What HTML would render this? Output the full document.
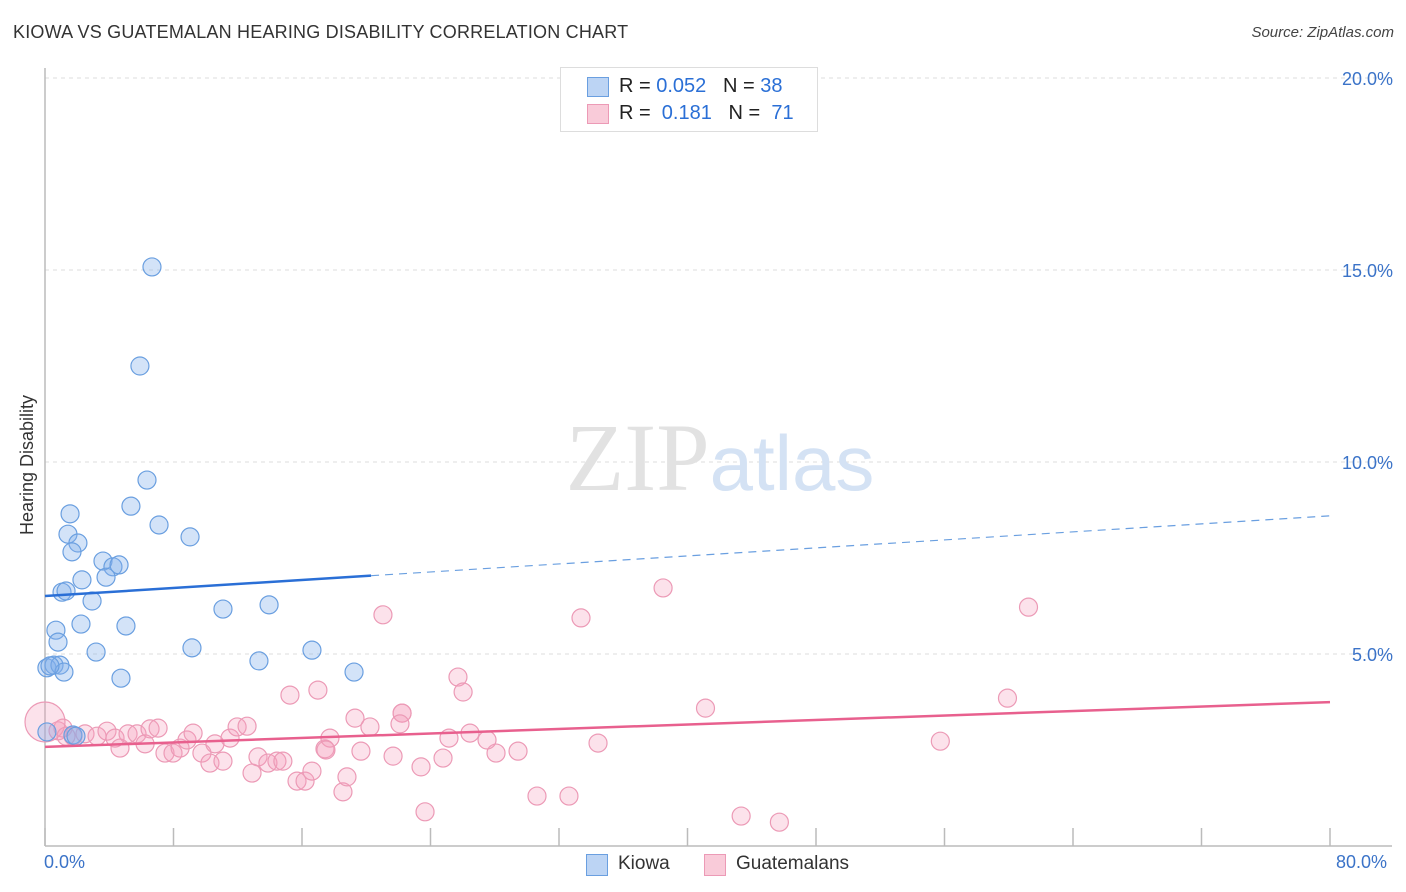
<!DOCTYPE html>
<html><head><meta charset="utf-8">
<style>
body{margin:0;background:#fff;font-family:"Liberation Sans",sans-serif;}
#wrap{position:relative;width:1406px;height:892px;overflow:hidden;}
.t{position:absolute;white-space:nowrap;}
</style></head>
<body>
<div id="wrap">
<div class="t" style="left:13px;top:22px;font-size:18px;color:#333;letter-spacing:0.2px">KIOWA VS GUATEMALAN HEARING DISABILITY CORRELATION CHART</div>
<div class="t" style="right:12px;top:24px;font-size:15px;color:#444;font-style:italic">Source: ZipAtlas.com</div>
<svg id="svg" width="1406" height="892" style="position:absolute;left:0;top:0"></svg>
</div>
<script>
const kiowaX=[6.66,5.91,6.35,5.35,1.56,7.10,9.03,1.43,2.05,1.68,3.61,4.23,4.61,3.80,2.30,1.06,1.31,2.93,11.08,13.95,0.68,2.24,5.04,0.81,3.18,9.15,13.32,16.62,0.12,0.56,0.93,1.18,19.24,4.73,0.12,1.74,1.93,0.31];
const kiowaY=[15.08,12.50,9.53,8.85,8.65,8.36,8.05,8.12,7.89,7.66,7.42,7.27,7.32,7.00,6.93,6.61,6.64,6.38,6.17,6.28,5.62,5.78,5.73,5.31,5.05,5.16,4.82,5.10,4.64,4.71,4.71,4.53,4.53,4.37,2.97,2.89,2.86,4.69];
const guatX=[0.81,1.12,1.74,2.49,3.24,3.86,4.36,4.67,5.17,5.73,6.23,6.54,7.04,7.47,7.97,8.41,8.84,9.22,9.77,10.27,10.58,11.08,11.52,11.96,12.89,12.58,13.26,13.88,14.44,14.81,15.25,16.99,15.69,16.19,16.62,17.43,17.74,18.55,18.80,19.30,19.67,20.23,21.04,33.37,25.71,26.03,22.23,22.23,22.10,17.49,21.67,23.41,24.78,25.15,26.46,28.08,27.52,29.45,34.43,30.63,32.62,23.66,38.48,41.12,43.34,45.72,55.74,59.92,61.23,0.0,1.31];
const guatY=[3.00,3.07,2.86,2.92,2.86,2.99,2.81,2.55,2.92,2.92,2.66,3.05,3.07,2.42,2.42,2.55,2.76,2.94,2.42,2.16,2.66,2.21,2.81,3.10,1.90,3.12,2.32,2.16,2.21,2.21,3.93,4.06,1.69,1.69,1.95,2.53,2.81,1.41,1.80,3.33,2.47,3.10,6.02,5.94,4.40,4.01,3.46,3.46,3.18,2.50,2.34,2.06,2.29,2.81,2.94,2.42,2.76,2.47,2.68,1.30,1.30,0.89,6.72,3.59,0.78,0.62,2.73,3.85,6.22,3.23,2.86];
const guatR=[9,9,9,9,9,9,9,9,9,9,9,9,9,9,9,9,9,9,9,9,9,9,9,9,9,9,9,9,9,9,9,9,9,9,9,9,9,9,9,9,9,9,9,9,9,9,9,9,9,9,9,9,9,9,9,9,9,9,9,9,9,9,9,9,9,9,9,9,9,20,9];
const kiowaTrend=[6.51,0.0261]; // intercept, slope
const guatTrend=[2.58,0.0146];
const yTicks=[5,10,15,20];
const yTickLabels=["5.0%","10.0%","15.0%","20.0%"];
const xTicks=[0,8,16,24,32,40,48,56,64,72,80];

const svg=document.getElementById('svg');
const NS='http://www.w3.org/2000/svg';
const X0=45,X1=1330,Y0=846,YPX=192/5;
const sx=v=>X0+(v/80)*(X1-X0);
const sy=v=>Y0-v*YPX;
function mk(tag,attrs){const e=document.createElementNS(NS,tag);for(const k in attrs)e.setAttribute(k,attrs[k]);svg.appendChild(e);return e;}

yTicks.forEach((v,i)=>{
  const g=mk('line',{x1:X0,x2:1392,y1:sy(v),y2:sy(v),stroke:'#dcdcdc','stroke-dasharray':'4,4'});
  
  
  const t=mk('text',{x:1393,y:sy(v)+7,'text-anchor':'end','font-size':18,fill:'#3b73c8','font-family':'Liberation Sans, sans-serif'});
  t.textContent=yTickLabels[i];
  
  
});
xTicks.forEach(v=>{
  const l=mk('line',{x1:sx(v),x2:sx(v),y1:828,y2:Y0,stroke:'#bbb','stroke-width':1.5});
  
  
});
const ax=mk('line',{x1:X0,x2:X0,y1:68,y2:Y0,stroke:'#bbb','stroke-width':1.5});


const bx=mk('line',{x1:X0,x2:1392,y1:Y0,y2:Y0,stroke:'#bbb','stroke-width':1.5});



const wm=mk('text',{x:720,y:490,'text-anchor':'middle','font-size':96,'font-family':'Liberation Serif, serif'});
wm.innerHTML='<tspan fill="#e2e2e2">ZIP</tspan><tspan fill="#d4e2f4" font-family="Liberation Sans, sans-serif" font-size="78">atlas</tspan>';



guatX.forEach((x,i)=>{
  const c=mk('circle',{cx:sx(x),cy:sy(guatY[i]),r:guatR[i],fill:'rgba(244,160,190,0.3)',stroke:'#ec9ab6','stroke-width':1.2});
  
  
});
kiowaX.forEach((x,i)=>{
  const c=mk('circle',{cx:sx(x),cy:sy(kiowaY[i]),r:9,fill:'rgba(130,175,235,0.35)',stroke:'#6a9fe0','stroke-width':1.2});
  
  
});
const kEnd=20.3;
const k1=mk('line',{x1:sx(0),y1:sy(kiowaTrend[0]),x2:sx(kEnd),y2:sy(kiowaTrend[0]+kiowaTrend[1]*kEnd),stroke:'#2a6fd6','stroke-width':2.5});


const k2=mk('line',{x1:sx(kEnd),y1:sy(kiowaTrend[0]+kiowaTrend[1]*kEnd),x2:sx(80),y2:sy(kiowaTrend[0]+kiowaTrend[1]*80),stroke:'#6a9fe0','stroke-width':1.2,'stroke-dasharray':'8,6'});


const g1=mk('line',{x1:sx(0),y1:sy(guatTrend[0]),x2:sx(80),y2:sy(guatTrend[0]+guatTrend[1]*80),stroke:'#e8608e','stroke-width':2.5});


</script>
<div class="t" style="left:17px;top:535px;transform:rotate(-90deg);transform-origin:0 0;font-size:18px;color:#333">Hearing Disability</div>
<div class="t" style="left:44px;top:852px;font-size:18px;color:#3b73c8">0.0%</div>
<div class="t" style="left:1336px;top:852px;font-size:18px;color:#3b73c8">80.0%</div>
<div style="position:absolute;left:560px;top:67px;width:256px;height:63px;border:1px solid #ddd;background:#fff">
 <div style="position:absolute;left:26px;top:9px;width:20px;height:18px;background:#bcd4f4;border:1px solid #6a9fe0"></div>
 <div style="position:absolute;left:26px;top:36px;width:20px;height:18px;background:#f9cbd9;border:1px solid #ec9ab6"></div>
 <div class="t" style="left:58px;top:7px;font-size:20px;color:#222">R = <span style="color:#2a6fd6">0.052</span>&nbsp;&nbsp;&nbsp;N = <span style="color:#2a6fd6">38</span></div>
 <div class="t" style="left:58px;top:34px;font-size:20px;color:#222">R = &nbsp;<span style="color:#2a6fd6">0.181</span>&nbsp;&nbsp;&nbsp;N = &nbsp;<span style="color:#2a6fd6">71</span></div>
</div>
<div style="position:absolute;left:586px;top:854px;width:20px;height:20px;background:#bcd4f4;border:1px solid #6a9fe0"></div>
<div class="t" style="left:618px;top:853px;font-size:19px;color:#333">Kiowa</div>
<div style="position:absolute;left:704px;top:854px;width:20px;height:20px;background:#f9cbd9;border:1px solid #ec9ab6"></div>
<div class="t" style="left:736px;top:853px;font-size:19px;color:#333">Guatemalans</div>
</body></html>
